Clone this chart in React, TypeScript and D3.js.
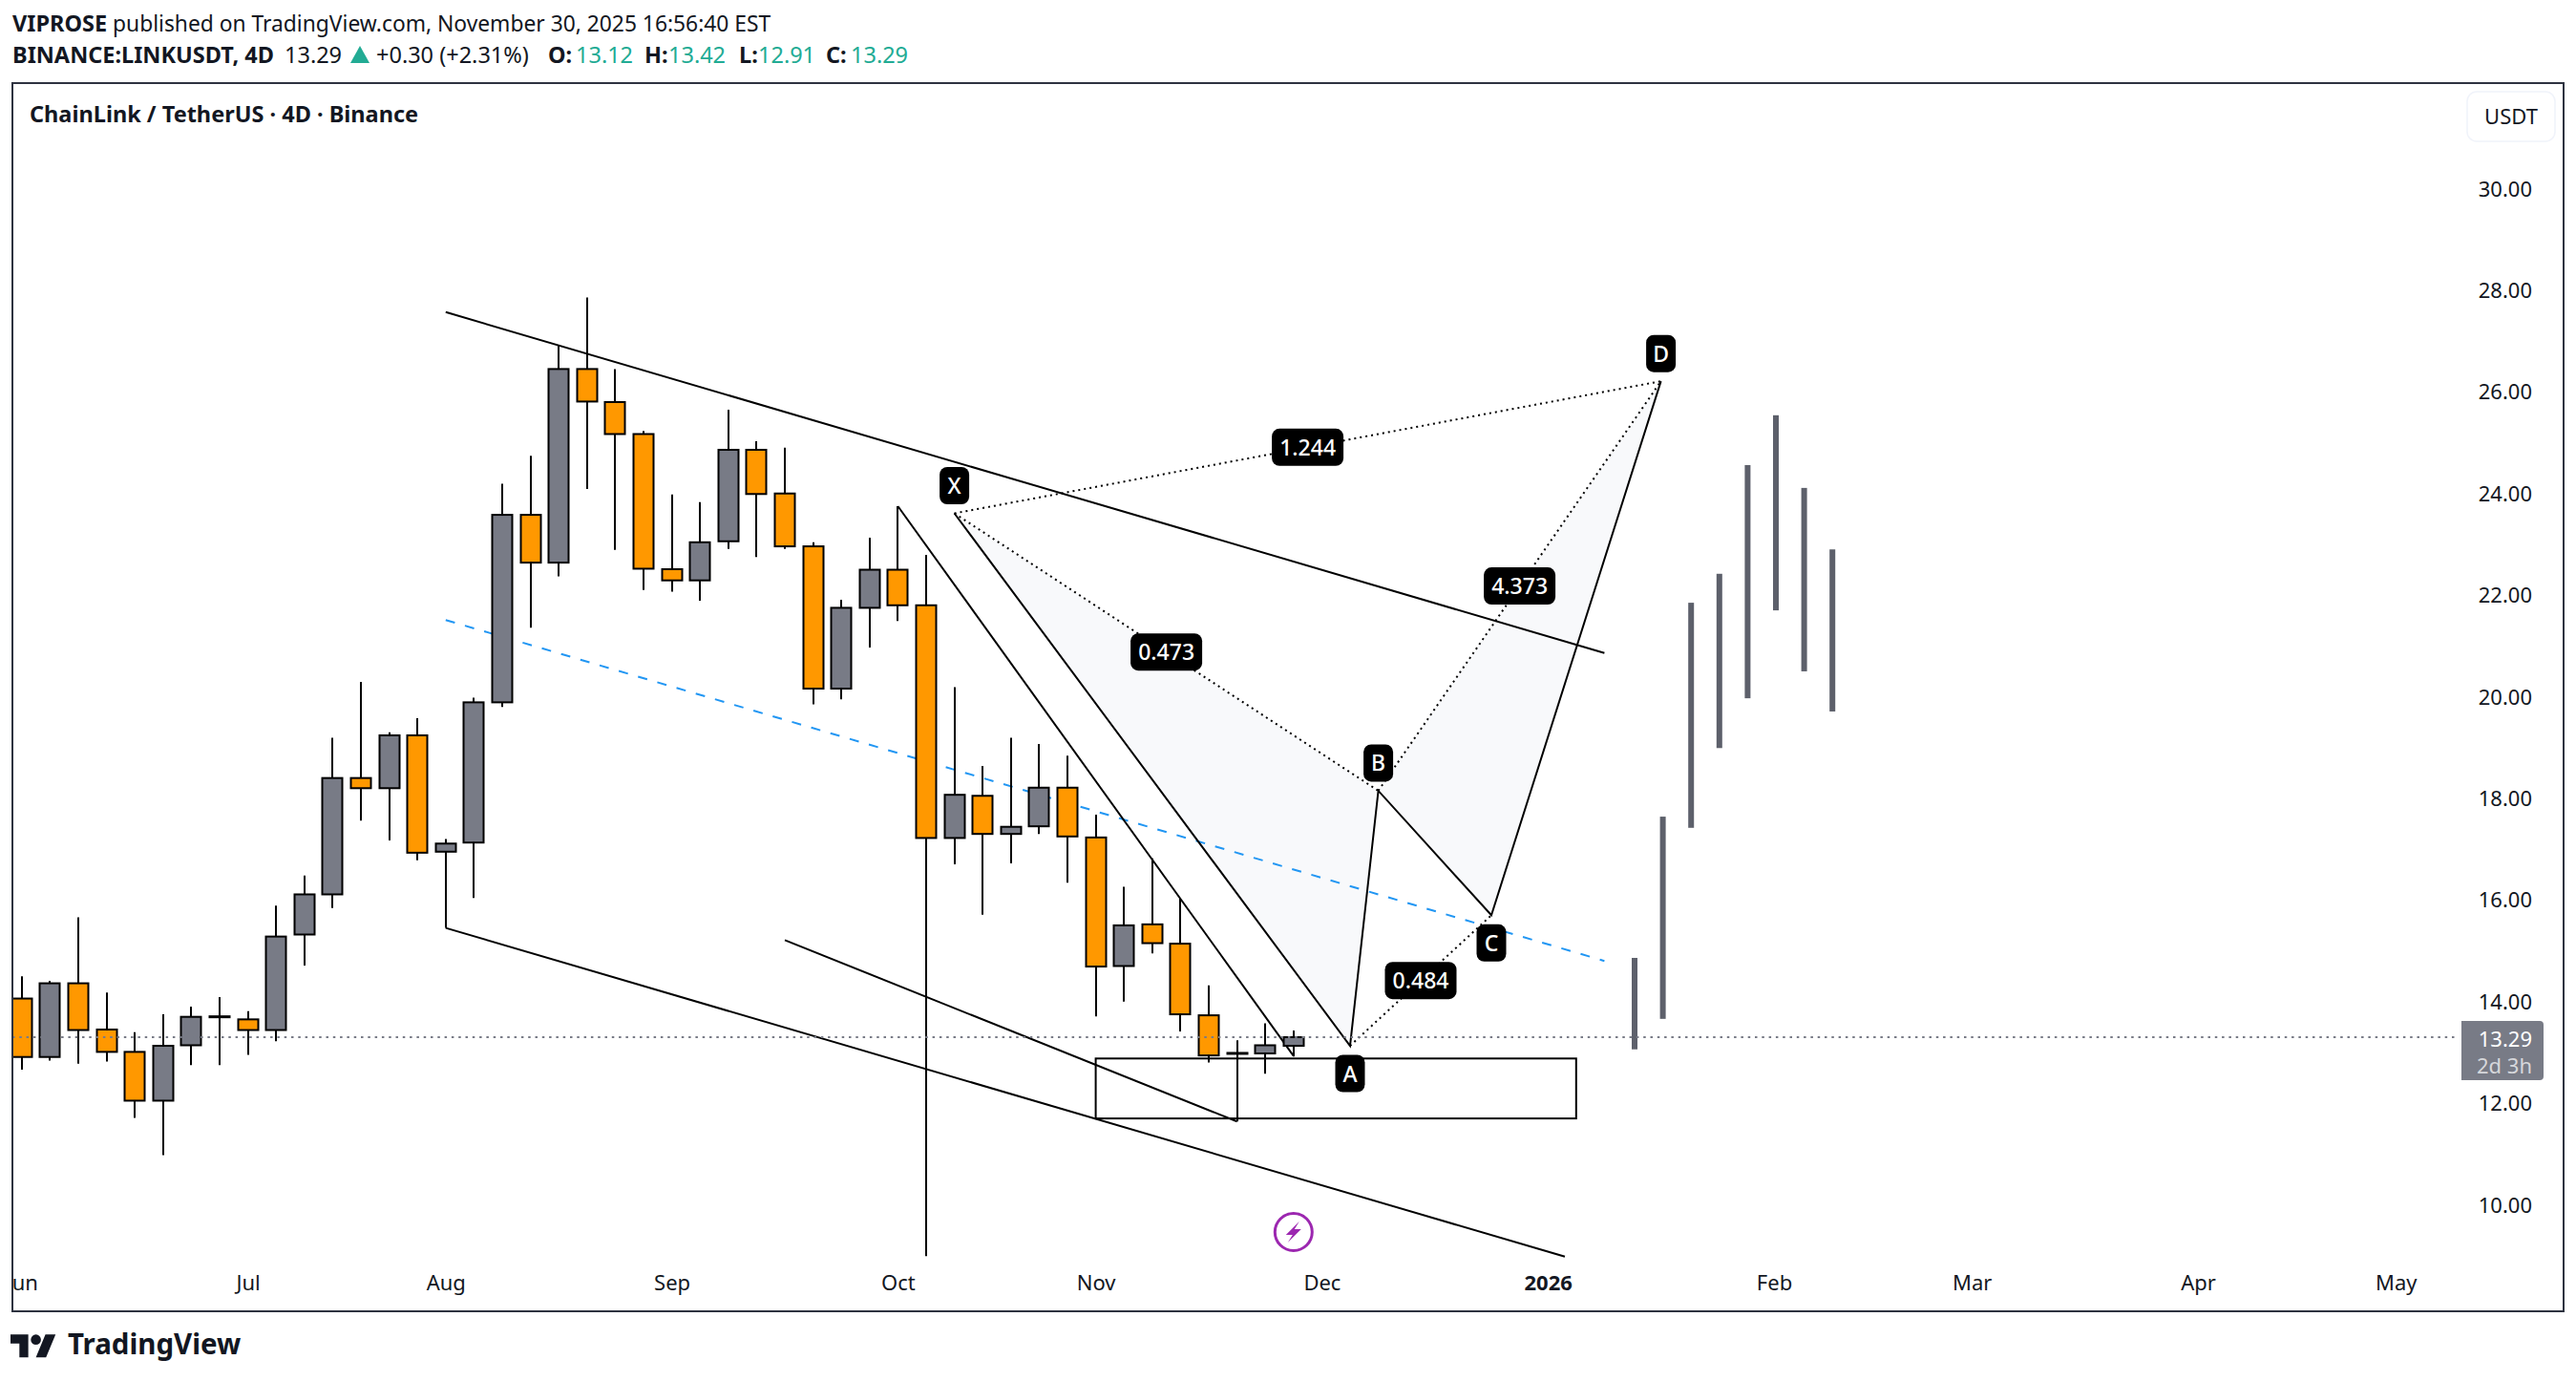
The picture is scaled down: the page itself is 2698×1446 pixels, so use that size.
import * as d3 from "d3";
import { useEffect, useRef } from "react";

const WIDTH = 2698;
const HEIGHT = 1446;
const FONT = "'Noto Sans', sans-serif";
const INK = "#131722";
const TEAL = "#22ab94";
const ORANGE = "#ff9800";
const GREY = "#787b86";

// 4D candles, index 0 is the first bar of June
const opens = [14.05, 12.9, 14.35, 13.44, 13.0, 12.04, 13.13, 13.7, 13.64, 13.43, 15.31, 16.1, 18.39, 18.19, 19.23, 16.94, 17.12, 19.88, 23.57, 22.63, 26.44, 25.79, 25.16, 22.5, 22.28, 23.05, 24.85, 23.99, 22.95, 20.15, 21.74, 22.49, 21.79, 17.21, 18.04, 17.29, 17.44, 18.2, 17.22, 14.69, 15.51, 15.13, 13.72, 12.98, 12.97, 13.12];
const closes = [12.9, 14.35, 13.43, 13.0, 12.04, 13.12, 13.69, 13.69, 13.43, 15.27, 16.1, 18.39, 18.19, 19.23, 16.92, 17.1, 19.88, 23.57, 22.63, 26.44, 25.8, 25.16, 22.51, 22.28, 23.03, 24.85, 23.98, 22.95, 20.15, 21.74, 22.49, 21.79, 17.21, 18.06, 17.29, 17.43, 18.2, 17.24, 14.68, 15.49, 15.14, 13.74, 12.93, 12.97, 13.13, 13.29];
const highs = [14.49, 14.4, 15.65, 14.17, 13.39, 13.74, 13.89, 14.08, 13.8, 15.88, 16.47, 19.18, 20.28, 19.29, 19.57, 17.19, 19.97, 24.18, 24.73, 26.91, 27.85, 26.44, 25.22, 23.97, 23.82, 25.64, 25.02, 24.89, 23.03, 21.9, 23.12, 23.74, 22.78, 20.18, 18.63, 19.18, 19.06, 18.83, 17.67, 16.25, 16.81, 16.02, 14.31, 13.23, 13.56, 13.42];
const lows = [12.65, 12.83, 12.77, 12.81, 11.7, 10.97, 12.74, 12.74, 12.94, 13.21, 14.7, 15.83, 17.55, 17.16, 16.77, 15.44, 16.03, 19.79, 21.35, 22.36, 24.08, 22.88, 22.09, 22.06, 21.88, 22.9, 22.74, 22.9, 19.84, 19.94, 20.96, 21.48, 8.98, 16.69, 15.7, 16.71, 17.29, 16.33, 13.7, 13.99, 14.94, 13.4, 12.79, 11.63, 12.57, 12.91];

const priceTicks = [10, 12, 14, 16, 18, 20, 22, 24, 26, 28, 30];
const monthLabels = ["Jun", "Jul", "Aug", "Sep", "Oct", "Nov", "Dec", "2026", "Feb", "Mar", "Apr", "May"];
const monthBars = [0, 8, 15, 23, 31, 38, 46, 54, 62, 69, 77, 84];

const lastPrice = 13.29;

// drawings: [bar, price, bar, price]
const trendLines = [
  [15, 27.56, 56, 20.85],
  [15, 15.44, 54.6, 8.97],
  [27, 15.2, 43, 11.63],
  [31, 23.74, 45, 12.92],
];
const midLine = [15, 21.5, 56, 14.79];
const zoneBars = [38, 55];
const zonePrices = [12.87, 11.69];

const pivotNames = ["X", "A", "B", "C", "D"];
const pivotBars = [33, 47, 48, 52, 58];
const pivotPrices = [23.6, 13.12, 18.14, 15.69, 26.2];
const pivotAbove = [true, false, true, false, true];

// ratio label sits on a dotted leg between two pivots
const ratioLabels = ["0.473", "0.484", "4.373", "1.244"];
const ratioLegs = [[0, 2], [1, 3], [2, 4], [0, 4]];

// projected bars pattern
const ghostBars = [57, 58, 59, 60, 61, 62, 63, 64];
const ghostHighs = [14.85, 17.63, 21.84, 22.41, 24.55, 25.53, 24.1, 22.89];
const ghostLows = [13.05, 13.65, 17.41, 18.98, 19.96, 21.69, 20.49, 19.7];

const App = () => {
  const ref = useRef<SVGSVGElement | null>(null);

  useEffect(() => {
    if (!ref.current) return;

    const svg = d3.select(ref.current);
    svg.selectAll("*").remove();
    svg.attr("font-family", FONT);

    const frame = { left: 13, right: 2685, top: 87, bottom: 1373 };

    svg.append("rect").attr("width", WIDTH).attr("height", HEIGHT).attr("fill", "#ffffff");

    svg
      .append("defs")
      .append("clipPath")
      .attr("id", "plot")
      .append("rect")
      .attr("x", frame.left)
      .attr("y", frame.top)
      .attr("width", frame.right - frame.left)
      .attr("height", frame.bottom - frame.top);

    const x = d3.scaleLinear().domain([0, 84]).range([22.8, 2509.2]);
    const y = d3.scaleLinear().domain([10, 30]).range([1261, 197]);

    const plot = svg.append("g").attr("clip-path", "url(#plot)");

    // harmonic fill
    const pivotPoint = (i: number) => [x(pivotBars[i]), y(pivotPrices[i])] as [number, number];
    const line = d3.line();
    plot
      .selectAll("path.wing")
      .data([[0, 1, 2], [2, 3, 4]])
      .join("path")
      .attr("d", (d) => line(d.map(pivotPoint)) + "Z")
      .attr("fill", "#f8f9fb");

    // mid channel, sits under the candles
    plot
      .append("line")
      .attr("x1", x(midLine[0]))
      .attr("y1", y(midLine[1]))
      .attr("x2", x(midLine[2]))
      .attr("y2", y(midLine[3]))
      .attr("stroke", "#2196f3")
      .attr("stroke-width", 2)
      .attr("stroke-dasharray", "10,11");

    plot
      .selectAll("line.trend")
      .data(trendLines)
      .join("line")
      .attr("x1", (d) => x(d[0]))
      .attr("y1", (d) => y(d[1]))
      .attr("x2", (d) => x(d[2]))
      .attr("y2", (d) => y(d[3]))
      .attr("stroke", "#000000")
      .attr("stroke-width", 2);

    plot
      .append("rect")
      .attr("x", x(zoneBars[0]))
      .attr("y", y(zonePrices[0]))
      .attr("width", x(zoneBars[1]) - x(zoneBars[0]))
      .attr("height", y(zonePrices[1]) - y(zonePrices[0]))
      .attr("fill", "none")
      .attr("stroke", "#000000")
      .attr("stroke-width", 2);

    // candles
    const candleWidth = 21;
    const candles = plot
      .append("g")
      .selectAll("g")
      .data(opens.map((open, i) => ({ i, open, close: closes[i], high: highs[i], low: lows[i] })))
      .join("g")
      .attr("transform", (d) => `translate(${Math.round(x(d.i))},0)`);

    candles
      .append("line")
      .attr("y1", (d) => y(d.high))
      .attr("y2", (d) => y(d.low))
      .attr("stroke", "#000000")
      .attr("stroke-width", 2);

    candles
      .append("rect")
      .attr("x", -candleWidth / 2)
      .attr("width", candleWidth)
      .attr("y", (d) => y(Math.max(d.open, d.close)))
      .attr("height", (d) => Math.max(1, Math.abs(y(d.close) - y(d.open))))
      .attr("fill", (d) => (d.close >= d.open ? GREY : ORANGE))
      .attr("stroke", "#000000")
      .attr("stroke-width", 2);

    // solid harmonic legs
    plot
      .append("path")
      .attr("d", line(pivotBars.map((_, i) => pivotPoint(i))))
      .attr("fill", "none")
      .attr("stroke", "#000000")
      .attr("stroke-width", 2);

    // dotted legs
    plot
      .selectAll("line.leg")
      .data(ratioLegs)
      .join("line")
      .attr("x1", (d) => pivotPoint(d[0])[0])
      .attr("y1", (d) => pivotPoint(d[0])[1])
      .attr("x2", (d) => pivotPoint(d[1])[0])
      .attr("y2", (d) => pivotPoint(d[1])[1])
      .attr("stroke", "#000000")
      .attr("stroke-width", 2)
      .attr("stroke-dasharray", "2,4");

    // projected bars
    plot
      .selectAll("rect.ghost")
      .data(ghostBars)
      .join("rect")
      .attr("x", (d) => x(d) - 1)
      .attr("width", 6)
      .attr("y", (_, i) => y(ghostHighs[i]))
      .attr("height", (_, i) => y(ghostLows[i]) - y(ghostHighs[i]))
      .attr("fill", "#5d606b");

    // last price line
    svg
      .append("line")
      .attr("x1", frame.left)
      .attr("x2", 2572)
      .attr("y1", y(lastPrice))
      .attr("y2", y(lastPrice))
      .attr("stroke", GREY)
      .attr("stroke-width", 2)
      .attr("stroke-dasharray", "2.5,4.8");

    // pivot and ratio tags
    const tag = (cx: number, cy: number, w: number, label: string) => {
      const g = plot.append("g").attr("transform", `translate(${cx},${cy})`);
      g.append("rect")
        .attr("x", -w / 2)
        .attr("y", -19.5)
        .attr("width", w)
        .attr("height", 39)
        .attr("rx", 8)
        .attr("fill", "#000000");
      g.append("text")
        .attr("text-anchor", "middle")
        .attr("y", 8.5)
        .attr("font-size", 23)
        .attr("font-weight", 500)
        .attr("fill", "#ffffff")
        .text(label);
    };
    pivotNames.forEach((name, i) => {
      const [px, py] = pivotPoint(i);
      tag(px, py + (pivotAbove[i] ? -29 : 29), 31, name);
    });
    ratioLabels.forEach((label, i) => {
      const [a, b] = ratioLegs[i];
      const [ax, ay] = pivotPoint(a);
      const [bx, by] = pivotPoint(b);
      tag((ax + bx) / 2, (ay + by) / 2, 75, label);
    });

    // idea marker
    const marker = plot.append("g").attr("transform", `translate(${x(45)},1290)`);
    marker
      .append("circle")
      .attr("r", 19.5)
      .attr("fill", "#ffffff")
      .attr("stroke", "#9c27b0")
      .attr("stroke-width", 3);
    marker.append("path").attr("d", "M6,-11 L-8,3 L-1,3 L-6,11 L8,-3 L1,-3 Z").attr("fill", "#9c27b0");

    // axes
    const yAxis = svg
      .append("g")
      .attr("transform", "translate(2652,1)")
      .call(
        d3
          .axisLeft(y)
          .tickValues(priceTicks)
          .tickSize(0)
          .tickPadding(0)
          .tickFormat((d) => d3.format(".2f")(+d))
      );
    yAxis.select(".domain").remove();
    yAxis.selectAll("text").attr("font-family", FONT).attr("font-size", 22).attr("fill", INK);

    const xAxis = plot
      .append("g")
      .attr("transform", "translate(0,1335)")
      .call(
        d3
          .axisBottom(x)
          .tickValues(monthBars)
          .tickSize(0)
          .tickPadding(0)
          .tickFormat((_, i) => monthLabels[i])
      );
    xAxis.select(".domain").remove();
    xAxis
      .selectAll("text")
      .attr("font-family", FONT)
      .attr("font-size", 22)
      .attr("fill", INK)
      .attr("font-weight", (d) => (d === 54 ? 700 : 400));

    // frame
    svg
      .append("rect")
      .attr("x", frame.left)
      .attr("y", frame.top)
      .attr("width", frame.right - frame.left)
      .attr("height", frame.bottom - frame.top)
      .attr("fill", "none")
      .attr("stroke", "#2e3340")
      .attr("stroke-width", 2);

    // price tag on the axis
    svg
      .append("path")
      .attr("d", "M2578,1069 H2660 a4,4 0 0 1 4,4 V1127 a4,4 0 0 1 -4,4 H2578 Z")
      .attr("fill", GREY);
    svg
      .append("text")
      .attr("x", 2652)
      .attr("y", 1096)
      .attr("text-anchor", "end")
      .attr("font-size", 22)
      .attr("fill", "#ffffff")
      .text(lastPrice.toFixed(2));
    svg
      .append("text")
      .attr("x", 2652)
      .attr("y", 1124)
      .attr("text-anchor", "end")
      .attr("font-size", 22)
      .attr("fill", "#d6d7db")
      .text("2d 3h");

    // USDT button
    svg
      .append("rect")
      .attr("x", 2584)
      .attr("y", 96)
      .attr("width", 92)
      .attr("height", 52)
      .attr("rx", 10)
      .attr("fill", "#ffffff")
      .attr("stroke", "#f0f3fa")
      .attr("stroke-width", 1.5);
    svg
      .append("text")
      .attr("x", 2630)
      .attr("y", 130)
      .attr("text-anchor", "middle")
      .attr("font-size", 22)
      .attr("fill", INK)
      .text("USDT");

    // header
    const header = (tx: number, ty: number, label: string, fill = INK, weight = 400, size = 23.5) =>
      svg
        .append("text")
        .attr("x", tx)
        .attr("y", ty)
        .attr("font-size", size)
        .attr("font-weight", weight)
        .attr("fill", fill)
        .text(label);

    const row1 = svg.append("text").attr("x", 13).attr("y", 33).attr("font-size", 22.8).attr("fill", INK);
    row1.append("tspan").attr("font-weight", 700).attr("font-size", 23.5).text("VIPROSE");
    row1.append("tspan").text(" published on TradingView.com, November 30, 2025 16:56:40 EST");

    header(13, 66, "BINANCE:LINKUSDT, 4D", INK, 700);
    header(298, 66, "13.29");
    svg.append("path").attr("d", "M377,48 L387,66 H367 Z").attr("fill", TEAL);
    header(394, 66, "+0.30 (+2.31%)");
    header(574, 66, "O:", INK, 700);
    header(603, 66, "13.12", TEAL);
    header(675, 66, "H:", INK, 700);
    header(700, 66, "13.42", TEAL);
    header(774, 66, "L:", INK, 700);
    header(794, 66, "12.91", TEAL);
    header(865, 66, "C:", INK, 700);
    header(891, 66, "13.29", TEAL);

    header(31, 128, "ChainLink / TetherUS · 4D · Binance", INK, 700);

    // footer logo
    const logo = svg.append("g").attr("transform", "translate(11,1392) scale(1.33)").attr("fill", INK);
    logo.append("path").attr("d", "M14 22H7V11H0V4h14v18zM28 22h-8l7.5-18h8L28 22z");
    logo.append("circle").attr("cx", 20).attr("cy", 8).attr("r", 4);
    header(71, 1418, "TradingView", INK, 700, 29.5);
  }, []);

  return (
    <svg
      ref={ref}
      width={WIDTH}
      height={HEIGHT}
      style={{ position: "absolute", left: 0, top: 0, display: "block" }}
    />
  );
};

export default App;
